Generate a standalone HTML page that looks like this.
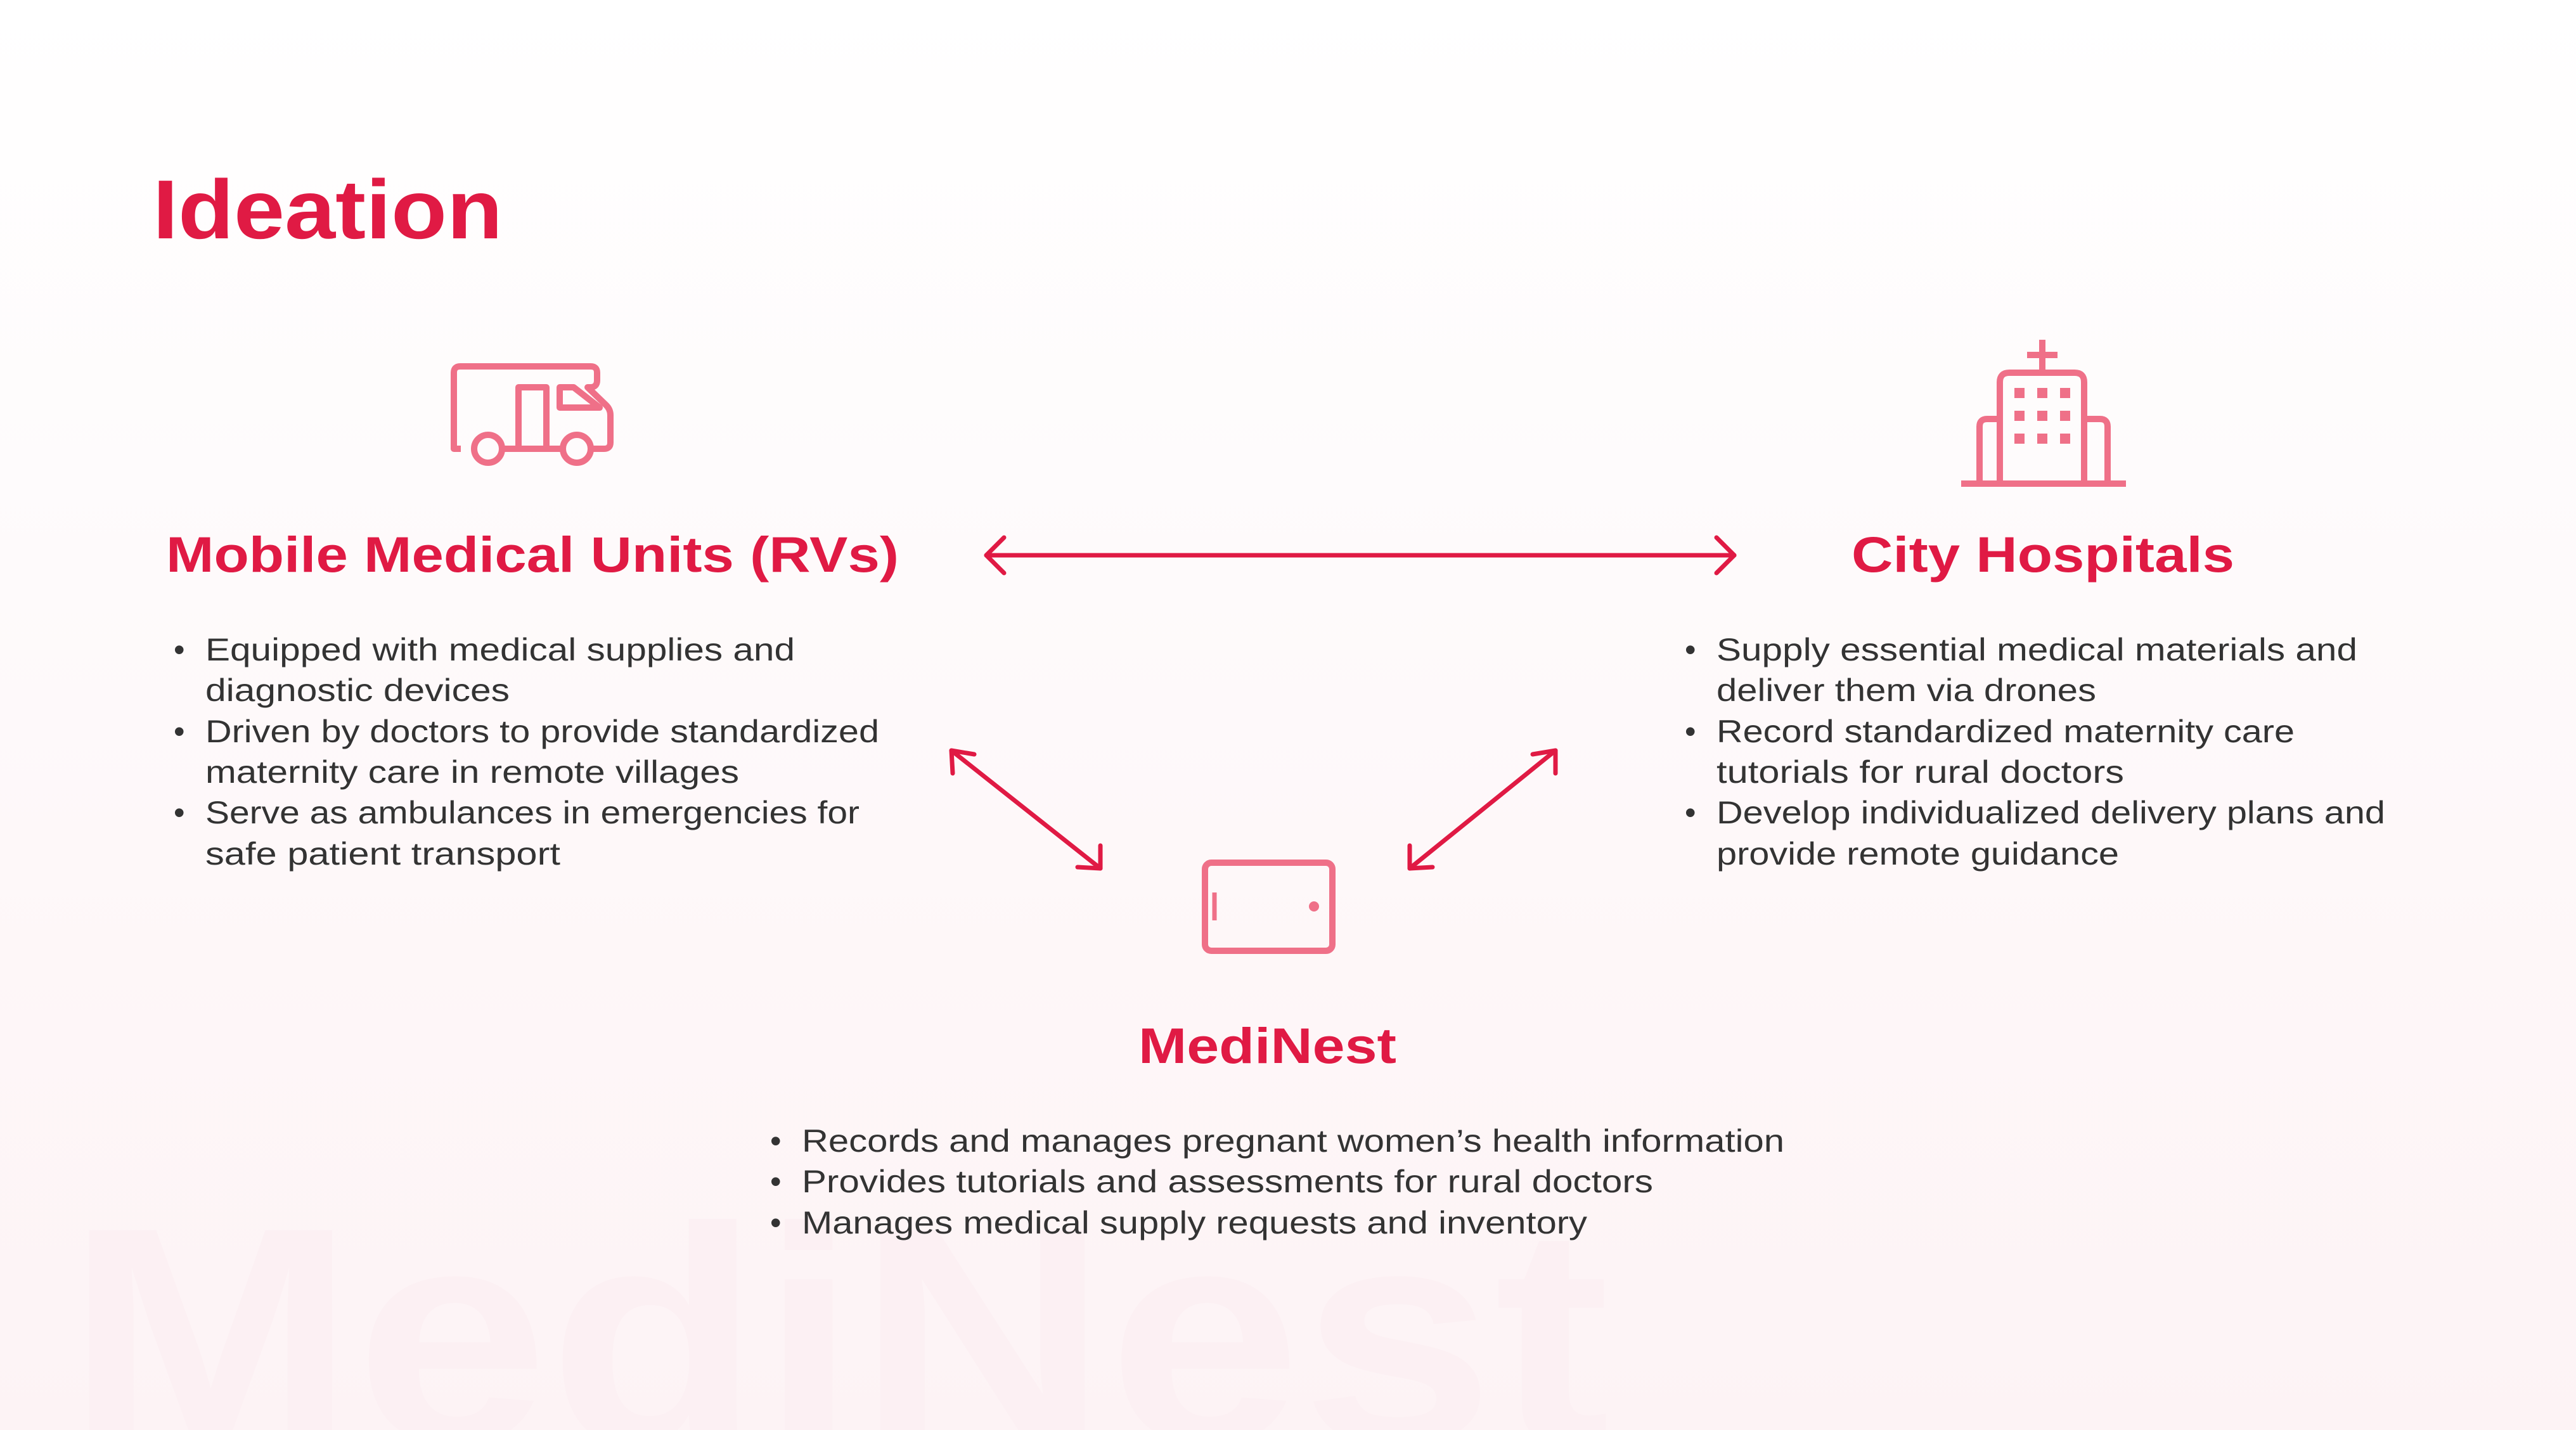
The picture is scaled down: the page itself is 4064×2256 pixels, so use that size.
<!DOCTYPE html>
<html><head><meta charset="utf-8"><style>
html,body{margin:0;padding:0;width:4064px;height:2256px;overflow:hidden}
svg{display:block;overflow:hidden}
.b{font-family:"Liberation Sans",sans-serif;font-size:50px;fill:#333}
.h{font-family:"Liberation Sans",sans-serif;font-weight:bold;fill:#e01a44}
</style></head><body>
<svg width="4064" height="2256" viewBox="0 0 4064 2256" overflow="hidden" xmlns="http://www.w3.org/2000/svg">
<defs><linearGradient id="bg" x1="0" y1="0" x2="0" y2="1"><stop offset="0" stop-color="#ffffff"/><stop offset="1" stop-color="#fdf3f5"/></linearGradient>
<clipPath id="cp"><rect width="4064" height="2256"/></clipPath></defs>
<g clip-path="url(#cp)">
<rect width="4064" height="2256" fill="url(#bg)"/>
<text x="104" y="2275" class="h" font-size="486" style="fill:#fcf0f3" textLength="2436" lengthAdjust="spacingAndGlyphs">MediNest</text>

<text x="241" y="376" class="h" font-size="132" textLength="552" lengthAdjust="spacingAndGlyphs">Ideation</text>
<text x="262" y="902" class="h" font-size="79" textLength="1156" lengthAdjust="spacingAndGlyphs">Mobile Medical Units (RVs)</text>
<text x="2921" y="902" class="h" font-size="79" textLength="604" lengthAdjust="spacingAndGlyphs">City Hospitals</text>
<text x="1796" y="1677" class="h" font-size="79" textLength="407" lengthAdjust="spacingAndGlyphs">MediNest</text>

<g class="b">
<text x="274" y="1042">•</text><text x="324" y="1042" textLength="930" lengthAdjust="spacingAndGlyphs">Equipped with medical supplies and</text>
<text x="324" y="1106" textLength="480" lengthAdjust="spacingAndGlyphs">diagnostic devices</text>
<text x="274" y="1171">•</text><text x="324" y="1171" textLength="1063" lengthAdjust="spacingAndGlyphs">Driven by doctors to provide standardized</text>
<text x="324" y="1235" textLength="842" lengthAdjust="spacingAndGlyphs">maternity care in remote villages</text>
<text x="274" y="1299">•</text><text x="324" y="1299" textLength="1032" lengthAdjust="spacingAndGlyphs">Serve as ambulances in emergencies for</text>
<text x="324" y="1364" textLength="560" lengthAdjust="spacingAndGlyphs">safe patient transport</text>

<text x="2658" y="1042">•</text><text x="2708" y="1042" textLength="1011" lengthAdjust="spacingAndGlyphs">Supply essential medical materials and</text>
<text x="2708" y="1106" textLength="599" lengthAdjust="spacingAndGlyphs">deliver them via drones</text>
<text x="2658" y="1171">•</text><text x="2708" y="1171" textLength="912" lengthAdjust="spacingAndGlyphs">Record standardized maternity care</text>
<text x="2708" y="1235" textLength="643" lengthAdjust="spacingAndGlyphs">tutorials for rural doctors</text>
<text x="2658" y="1299">•</text><text x="2708" y="1299" textLength="1055" lengthAdjust="spacingAndGlyphs">Develop individualized delivery plans and</text>
<text x="2708" y="1364" textLength="635" lengthAdjust="spacingAndGlyphs">provide remote guidance</text>

<text x="1215" y="1817">•</text><text x="1265" y="1817" textLength="1550" lengthAdjust="spacingAndGlyphs">Records and manages pregnant women’s health information</text>
<text x="1215" y="1881">•</text><text x="1265" y="1881" textLength="1343" lengthAdjust="spacingAndGlyphs">Provides tutorials and assessments for rural doctors</text>
<text x="1215" y="1946">•</text><text x="1265" y="1946" textLength="1239" lengthAdjust="spacingAndGlyphs">Manages medical supply requests and inventory</text>
</g>

<g stroke="#e01a44" stroke-width="7" fill="none" stroke-linecap="round" stroke-linejoin="round">
<line x1="1556" y1="876" x2="2736" y2="876"/>
<polyline points="1584,848 1556,876 1584,904"/>
<polyline points="2708,848 2736,876 2708,904"/>
<line x1="1501" y1="1184" x2="1736" y2="1370"/>
<polyline points="1503,1220 1501,1184 1537,1190"/>
<polyline points="1736,1334 1736,1370 1700,1368"/>
<line x1="2454" y1="1184" x2="2224" y2="1370"/>
<polyline points="2418,1190 2454,1184 2454,1220"/>
<polyline points="2224,1334 2224,1370 2260,1368"/>
</g>

<g stroke="#ef7088" stroke-width="10" fill="none" stroke-linejoin="round" stroke-linecap="butt">
<path d="M727,708 H716 V588 Q716,578 726,578 H932 Q942,578 942,588 V600 Q942,611 931,611 H927 L955,638 Q963,645 963,655 V698 Q963,708 953,708 H932"/>
<line x1="792" y1="708" x2="888" y2="708"/>
<circle cx="770" cy="708" r="22"/>
<circle cx="910" cy="708" r="22"/>
<path d="M818,708 V611 H862 V708"/>
<path d="M883,643 V611 H905 L946,643 Z"/>
<line x1="3222" y1="536" x2="3222" y2="588"/>
<line x1="3198" y1="560" x2="3246" y2="560"/>
<path d="M3155,763 V603 Q3155,588 3170,588 H3273 Q3288,588 3288,603 V763"/>
<path d="M3155,661 H3135 Q3123,661 3123,673 V763"/>
<path d="M3288,661 H3313 Q3325,661 3325,673 V763"/>
<line x1="3094" y1="763" x2="3354" y2="763"/>
<rect x="1901" y="1361" width="201" height="139" rx="10"/>
<line x1="1916" y1="1408" x2="1916" y2="1452" stroke-width="7"/>
</g>
<circle cx="2073" cy="1430" r="8" fill="#ef7088"/>
<g fill="#ef7088">
<rect x="3178" y="612" width="16" height="16"/><rect x="3214" y="612" width="16" height="16"/><rect x="3250" y="612" width="16" height="16"/>
<rect x="3178" y="648" width="16" height="16"/><rect x="3214" y="648" width="16" height="16"/><rect x="3250" y="648" width="16" height="16"/>
<rect x="3178" y="684" width="16" height="16"/><rect x="3214" y="684" width="16" height="16"/><rect x="3250" y="684" width="16" height="16"/>
</g>
</g>
</svg>
</body></html>
